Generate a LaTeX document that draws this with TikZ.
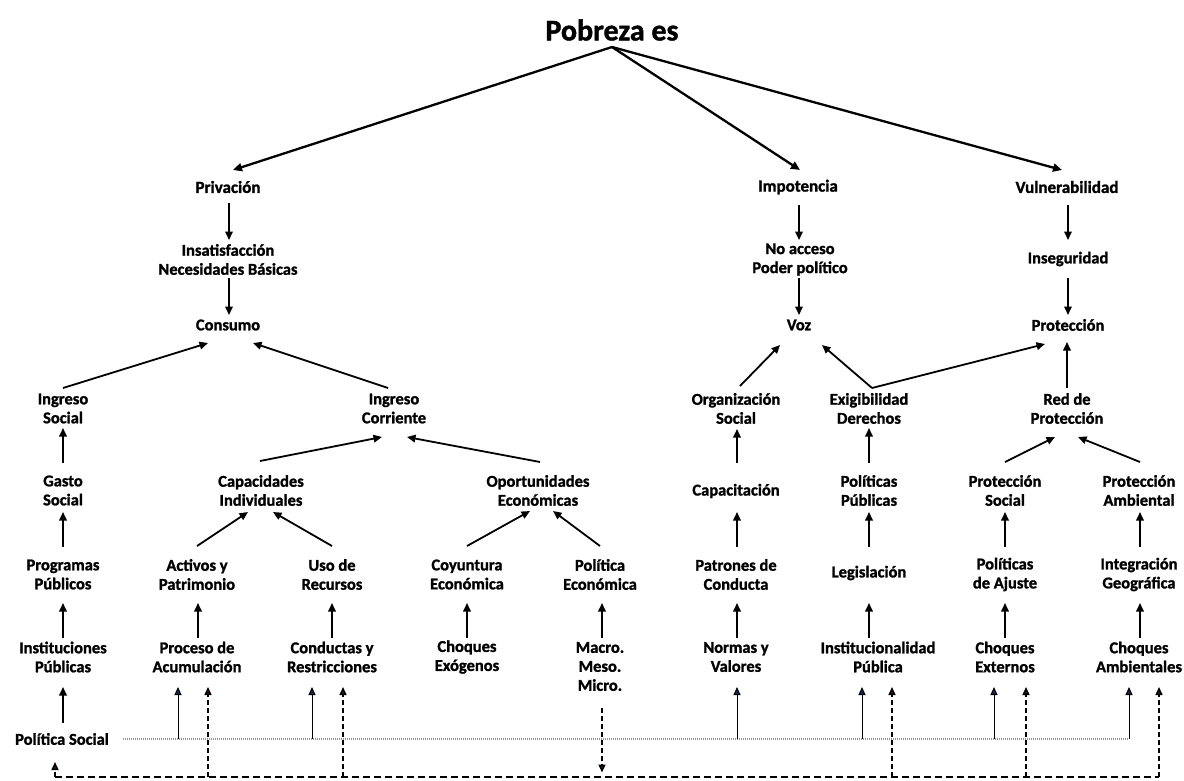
\documentclass[tikz,border=0pt]{standalone}
\usepackage{fontspec}
\setmainfont{Carlito}[BoldFeatures={FakeBold=1.3}]
\usetikzlibrary{arrows.meta,calc}
\definecolor{tipblue}{RGB}{20,40,80}
\definecolor{tipred}{RGB}{70,20,20}
\definecolor{dotgray}{RGB}{150,150,150}
\tikzset{
  lbl/.style={font=\fontsize{16.5}{19}\selectfont\bfseries, align=center, inner sep=1pt},
  toplbl/.style={font=\fontsize{17}{19}\selectfont\bfseries, align=center, inner sep=1pt},
  titlelbl/.style={font=\fontsize{30}{34}\selectfont\bfseries, inner sep=1pt},
  arr/.style={line width=1.8pt, -{Triangle[length=8.5pt,width=7.5pt]}},
  bigarr/.style={line width=2.3pt, -{Triangle[length=9pt,width=8pt]}},
  busarr/.style={line width=1pt, -{Triangle[length=8pt,width=7pt,fill=tipblue]}},
  fbarr/.style={line width=1.5pt, dash pattern=on 5pt off 3pt, -{Triangle[length=8pt,width=7pt,fill=tipred]}},
  fbline/.style={line width=1.5pt, dash pattern=on 7pt off 4pt},
  dotline/.style={line width=1.3pt, dotgray, dash pattern=on 1pt off 1pt},
}
\begin{document}
\begin{tikzpicture}[x=1pt,y=-1pt]
\fill[white] (0,0) rectangle (1184,780);
\useasboundingbox (0,0) rectangle (1184,780);

% ---- nodes
\node[titlelbl] (title) at (612,30) {Pobreza es};

\node[toplbl] (priv) at (228,187) {Privación};
\node[toplbl] (impo) at (798,187) {Impotencia};
\node[toplbl] (vuln) at (1067,187) {Vulnerabilidad};

\node[lbl] (insat) at (228,259.5) {Insatisfacción\\Necesidades Básicas};
\node[lbl] (noacc) at (800,259.5) {No acceso\\Poder político};
\node[lbl] (inseg) at (1068,259) {Inseguridad};

\node[lbl] (cons) at (228,325) {Consumo};
\node[lbl] (voz) at (799,325) {Voz};
\node[lbl] (prot) at (1068,325) {Protección};

\node[lbl] (ingS) at (63,408.5) {Ingreso\\Social};
\node[lbl] (ingC) at (394,408.5) {Ingreso\\Corriente};
\node[lbl] (orgS) at (736,408.5) {Organización\\Social};
\node[lbl] (exig) at (869,408.5) {Exigibilidad\\Derechos};
\node[lbl] (red) at (1067,408.5) {Red de\\Protección};

\node[lbl] (gasto) at (63,490.5) {Gasto\\Social};
\node[lbl] (capI) at (261,490.5) {Capacidades\\Individuales};
\node[lbl] (oport) at (538,490.5) {Oportunidades\\Económicas};
\node[lbl] (capac) at (736,491) {Capacitación};
\node[lbl] (polP) at (869,490.5) {Políticas\\Públicas};
\node[lbl] (protS) at (1005,490.5) {Protección\\Social};
\node[lbl] (protA) at (1139,490.5) {Protección\\Ambiental};

\node[lbl] (prog) at (63,574.5) {Programas\\Públicos};
\node[lbl] (activ) at (197,574.5) {Activos y\\Patrimonio};
\node[lbl] (uso) at (332,574.5) {Uso de\\Recursos};
\node[lbl] (coy) at (467,574.5) {Coyuntura\\Económica};
\node[lbl] (polE) at (600,574.5) {Política\\Económica};
\node[lbl] (patr) at (736,574.5) {Patrones de\\Conducta};
\node[lbl] (legis) at (869,573) {Legislación};
\node[lbl] (polA) at (1005,574.5) {Políticas\\de Ajuste};
\node[lbl] (integ) at (1139,574.5) {Integración\\Geográfica};

\node[lbl] (inst) at (63,657) {Instituciones\\Públicas};
\node[lbl] (proc) at (197,657) {Proceso de\\Acumulación};
\node[lbl] (cond) at (332,657) {Conductas y\\Restricciones};
\node[lbl] (choqX) at (467,657) {Choques\\Exógenos};
\node[lbl] (macro) at (600,666.5) {Macro.\\Meso.\\Micro.};
\node[lbl] (normas) at (736,657) {Normas y\\Valores};
\node[lbl] (instP) at (878,657) {Institucionalidad\\Pública};
\node[lbl] (choqE) at (1005,657) {Choques\\Externos};
\node[lbl] (choqA) at (1139,657) {Choques\\Ambientales};

\node[lbl] (polS) at (62,739) {Política Social};

% ---- top arrows
\draw[bigarr] ($(title)+(0,17)$) -- ($(priv)+(5,-17)$);
\draw[bigarr] ($(title)+(0,17)$) -- ($(impo)+(2,-17)$);
\draw[bigarr] ($(title)+(0,17)$) -- ($(vuln)+(-5,-17)$);

\draw[arr] ($(priv)+(1,16)$) -- ($(insat)+(1,-19.5)$);
\draw[arr] ($(insat)+(1,18.5)$) -- ($(cons)+(1,-10)$);
\draw[arr] ($(impo)+(1,18)$) -- ($(noacc)+(-1,-19.5)$);
\draw[arr] ($(noacc)+(-1,18.5)$) -- ($(voz)+(0,-10)$);
\draw[arr] ($(vuln)+(1,18)$) -- ($(inseg)+(0,-19)$);
\draw[arr] ($(inseg)+(0,19)$) -- ($(prot)+(0,-10)$);

% ---- into Consumo / Voz / Protección
\draw[arr] ($(ingS)+(0,-20.5)$) -- ($(cons)+(-20,18)$);
\draw[arr] ($(ingC)+(-6,-20.5)$) -- ($(cons)+(25,18)$);
\draw[arr] ($(orgS)+(4,-22.5)$) -- ($(voz)+(-19,20)$);
\coordinate (vtx) at ($(exig)+(3,-20.5)$);
\draw[arr] (vtx) -- ($(voz)+(23,20)$);
\draw[arr] (vtx) -- ($(prot)+(-23,19)$);
\draw[arr] ($(red)+(0,-20.5)$) -- ($(prot)+(-1,17)$);

% ---- second row
\draw[arr] ($(gasto)+(0,-27.5)$) -- ($(ingS)+(0,19.5)$);
\draw[arr] ($(capI)+(-1,-29.5)$) -- ($(ingC)+(-12,28.5)$);
\draw[arr] ($(oport)+(2,-28.5)$) -- ($(ingC)+(13,28.5)$);
\draw[arr] ($(capac)+(1,-28)$) -- ($(orgS)+(1,20.5)$);
\draw[arr] ($(polP)+(0,-27.5)$) -- ($(exig)+(0,19.5)$);
\draw[arr] ($(protS)+(0,-28.5)$) -- ($(red)+(-12,28.5)$);
\draw[arr] ($(protA)+(1,-28.5)$) -- ($(red)+(11,28.5)$);

% ---- third row
\draw[arr] ($(prog)+(0,-27.5)$) -- ($(gasto)+(0,21.5)$);
\draw[arr] ($(activ)+(0,-28.5)$) -- ($(capI)+(-13,21.5)$);
\draw[arr] ($(uso)+(0,-28.5)$) -- ($(capI)+(12,21.5)$);
\draw[arr] ($(coy)+(0,-28.5)$) -- ($(oport)+(-8,20.5)$);
\draw[arr] ($(polE)+(0,-28.5)$) -- ($(oport)+(15,20.5)$);
\draw[arr] ($(patr)+(1,-27.5)$) -- ($(capac)+(1,21)$);
\draw[arr] ($(legis)+(0,-26)$) -- ($(polP)+(0,21.5)$);
\draw[arr] ($(polA)+(0,-27.5)$) -- ($(protS)+(0,21.5)$);
\draw[arr] ($(integ)+(1,-27.5)$) -- ($(protA)+(1,21.5)$);

% ---- fourth row
\draw[arr] ($(inst)+(0,-19)$) -- ($(prog)+(0,28.5)$);
\draw[arr] ($(proc)+(1,-19)$) -- ($(activ)+(1,28.5)$);
\draw[arr] ($(cond)+(0,-19)$) -- ($(uso)+(0,28.5)$);
\draw[arr] ($(choqX)+(0,-19)$) -- ($(coy)+(0,28.5)$);
\draw[arr] ($(macro)+(2,-28.5)$) -- ($(polE)+(2,28.5)$);
\draw[arr] ($(normas)+(1,-19)$) -- ($(patr)+(1,28.5)$);
\draw[arr] ($(instP)+(-9,-19)$) -- ($(legis)+(0,30)$);
\draw[arr] ($(choqE)+(0,-19)$) -- ($(polA)+(0,28.5)$);
\draw[arr] ($(choqA)+(1,-19)$) -- ($(integ)+(1,28.5)$);

\draw[arr] ($(polS)+(1,-16)$) -- ($(inst)+(0,30)$);

% ---- bus lines
\coordinate (dotS) at (123,739);
\coordinate (dotE) at (1129,739);
\coordinate (fbS) at (55,777);
\coordinate (fbE) at (1159,777);
\coordinate (r4) at (0,687);
\draw[dotline] (dotS) -- (dotE);
\draw[fbline] (fbS) -- (fbE);

\foreach \xx/\nn in {178/proc,312/cond,737/normas,862/instP,994/choqE}{
  \coordinate (b\nn) at (\xx,739);
  \draw[busarr] (b\nn) -- (b\nn |- r4);
}
\draw[busarr] (dotE) -- (dotE |- r4);

\foreach \xx/\nn in {208/proc,343/cond,892/instP,1026/choqE}{
  \coordinate (f\nn) at (\xx,777);
  \draw[fbarr] (f\nn) -- (f\nn |- r4);
}
\draw[fbarr] (fbE) -- (fbE |- r4);

\draw[fbarr] ($(macro)+(2,41.5)$) -- ($(macro)+(2,106)$);
\draw[fbarr] (fbS) -- ($(polS)+(-7,23)$);
\end{tikzpicture}
\end{document}
